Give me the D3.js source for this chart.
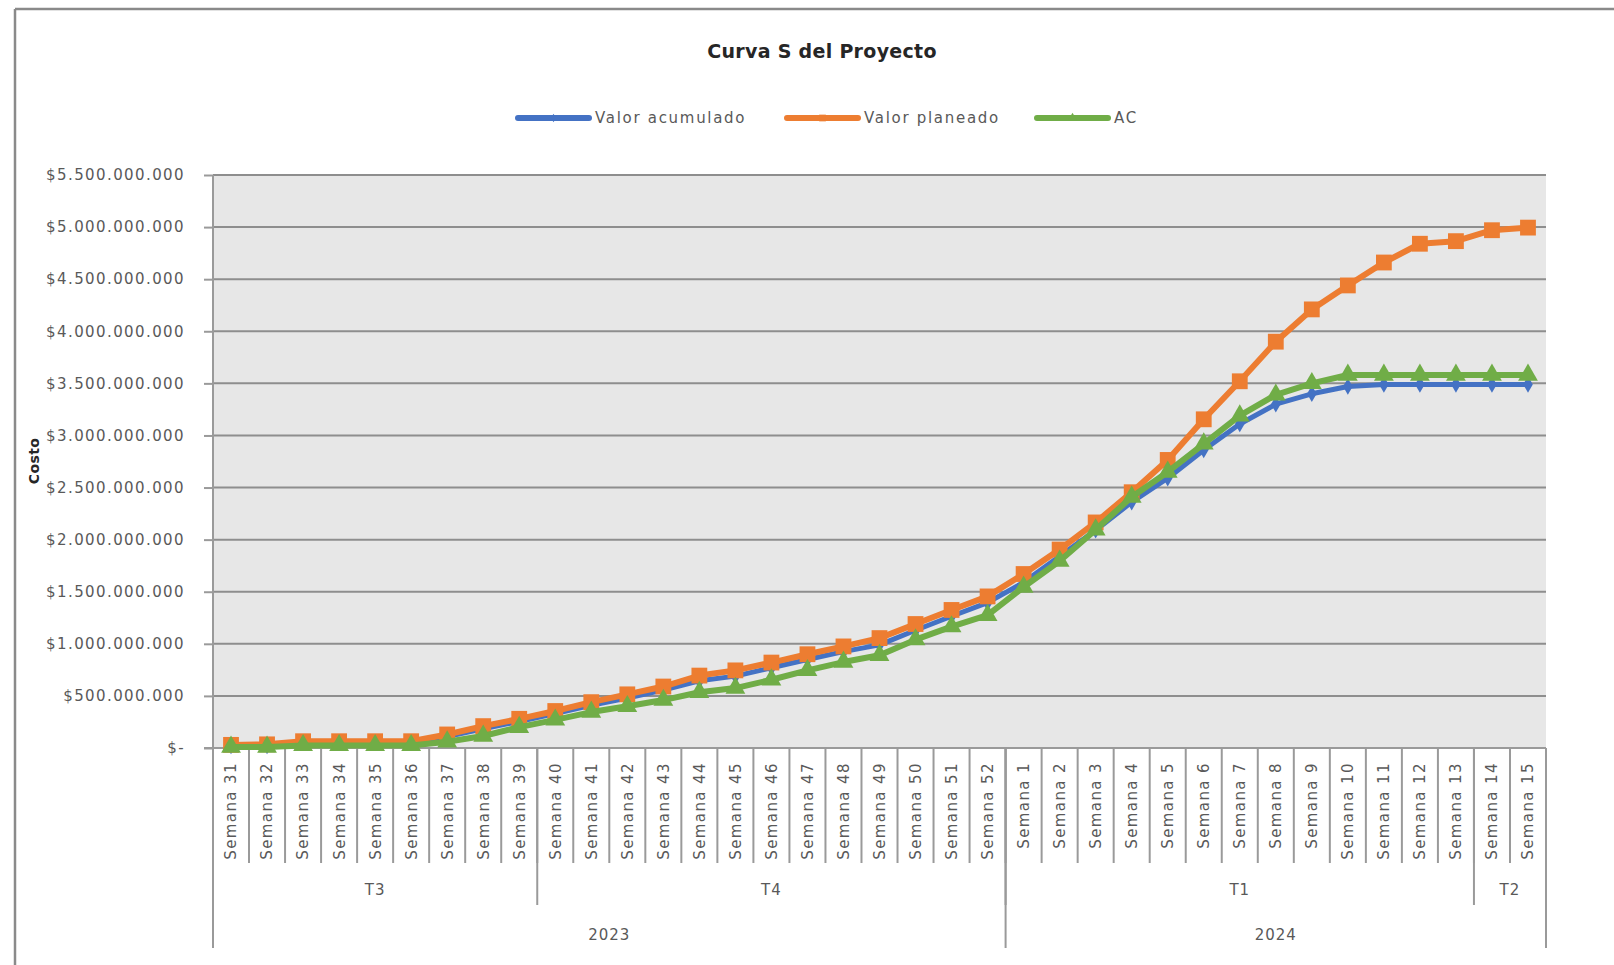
<!DOCTYPE html>
<html><head><meta charset="utf-8">
<script src="https://cdn.jsdelivr.net/npm/d3@7"></script>
<style>
body{margin:0;background:#fff;}
svg{display:block;}
</style>
</head><body>
<svg id="chart" width="1614" height="965"></svg>
<script>
// ---------- DATA ----------
const weeks = [
  "Semana 31","Semana 32","Semana 33","Semana 34","Semana 35","Semana 36","Semana 37","Semana 38","Semana 39",
  "Semana 40","Semana 41","Semana 42","Semana 43","Semana 44","Semana 45","Semana 46","Semana 47","Semana 48",
  "Semana 49","Semana 50","Semana 51","Semana 52",
  "Semana 1","Semana 2","Semana 3","Semana 4","Semana 5","Semana 6","Semana 7","Semana 8","Semana 9",
  "Semana 10","Semana 11","Semana 12","Semana 13","Semana 14","Semana 15"
];
const quarterLabels = ["T3","T4","T1","T2"];
const quarterSpans  = [9, 13, 13, 2];
const yearLabels = ["2023","2024"];
const yearSpans  = [22, 15];

const seriesNames = ["Valor acumulado","Valor planeado","AC"];
const UNIT = 1e6; // values below are in millions of pesos
const valorAcumulado = [20,20,50,50,50,50,110,185,255,330,410,480,555,645,690,770,850,925,990,1130,1265,1395,
  1590,1840,2090,2360,2590,2860,3110,3300,3400,3470,3490,3490,3490,3490,3490];
const valorPlaneado = [30,35,65,65,65,65,130,210,280,355,440,515,590,695,745,820,900,975,1055,1190,1325,1455,
  1670,1905,2165,2455,2765,3155,3520,3900,4210,4440,4660,4840,4865,4970,4995];
const acValues = [10,10,25,25,25,25,60,115,200,270,345,400,460,535,575,655,745,825,890,1040,1165,1275,
  1545,1795,2095,2410,2650,2920,3190,3390,3500,3580,3580,3580,3580,3580,3580];

const yTickValues = [0,500,1000,1500,2000,2500,3000,3500,4000,4500,5000,5500];
const yTickLabels = ["$-","$500.000.000","$1.000.000.000","$1.500.000.000","$2.000.000.000","$2.500.000.000",
  "$3.000.000.000","$3.500.000.000","$4.000.000.000","$4.500.000.000","$5.000.000.000","$5.500.000.000"];

const chartTitle = "Curva S del Proyecto";
const yAxisTitle = "Costo";

// ---------- STYLE / LAYOUT ----------
const colors = ["#4472C4","#ED7D31","#70AD47"];
const symbols = [d3.symbolDiamond, d3.symbolSquare, d3.symbolTriangle];
const symbolSizes = [80, 250, 170];
const lineWidths = [5, 6, 6];
const legendSymbolSizes = [22, 45, 35];
const FONT = "'DejaVu Sans', sans-serif";
const textColor = "#595959";
const gridColor = "#8e8e8e";
const axisColor = "#9a9a9a";

const plot = {left:213, right:1546, top:175, bottom:748};

const svg = d3.select("#chart");

// outer frame (top + left)
svg.append("line").attr("x1",15).attr("x2",1614).attr("y1",9).attr("y2",9)
  .attr("stroke","#8a8a8a").attr("stroke-width",2.5);
svg.append("line").attr("x1",15).attr("x2",15).attr("y1",9).attr("y2",965)
  .attr("stroke","#8a8a8a").attr("stroke-width",2.5);

// scales
const x = d3.scaleBand().domain(weeks).range([plot.left, plot.right]).padding(0);
const y = d3.scaleLinear().domain([0, 5500*UNIT]).range([plot.bottom, plot.top]);
const cx = d => x(d) + x.bandwidth()/2;

// plot background
svg.append("rect").attr("x",plot.left).attr("y",plot.top)
  .attr("width",plot.right-plot.left).attr("height",plot.bottom-plot.top)
  .attr("fill","#e7e7e7");

// gridlines
svg.append("g").selectAll("line").data(yTickValues.filter(v=>v>0)).join("line")
  .attr("x1",plot.left).attr("x2",plot.right)
  .attr("y1",d=>y(d*UNIT)).attr("y2",d=>y(d*UNIT))
  .attr("stroke",gridColor).attr("stroke-width",2);

// y axis
const yAxis = d3.axisLeft(y)
  .tickValues(yTickValues.map(v=>v*UNIT))
  .tickFormat((d,i)=>yTickLabels[i])
  .tickSize(9).tickPadding(19);
const gy = svg.append("g").attr("transform",`translate(${plot.left},0)`).call(yAxis);
gy.select(".domain").remove();
gy.selectAll(".tick line").attr("stroke",axisColor).attr("stroke-width",2);
gy.selectAll(".tick text").attr("fill",textColor).style("font-family",FONT)
  .style("font-size","15px").style("letter-spacing","1.4px");

// y axis vertical line (extends through category rows)
svg.append("line").attr("x1",plot.left).attr("x2",plot.left).attr("y1",plot.top).attr("y2",948)
  .attr("stroke",axisColor).attr("stroke-width",2);

// x axis baseline
svg.append("line").attr("x1",plot.left-9).attr("x2",plot.right).attr("y1",plot.bottom).attr("y2",plot.bottom)
  .attr("stroke",axisColor).attr("stroke-width",2);

// x axis week labels
const xAxis = d3.axisBottom(x).tickSize(0);
const gx = svg.append("g").attr("transform",`translate(0,${plot.bottom})`).call(xAxis);
gx.select(".domain").remove();
gx.selectAll(".tick text")
  .attr("transform","rotate(-90)")
  .attr("x",-14).attr("y",0).attr("dy","0.36em")
  .attr("text-anchor","end")
  .attr("fill",textColor).style("font-family",FONT)
  .style("font-size","15px").style("letter-spacing","1.4px");

// week separators
const step = x.step();
const x0 = x.range()[0];
const boundaryX = i => x0 + i*step;
svg.append("g").selectAll("line").data(d3.range(weeks.length+1)).join("line")
  .attr("x1",boundaryX).attr("x2",boundaryX)
  .attr("y1",plot.bottom).attr("y2",863)
  .attr("stroke",axisColor).attr("stroke-width",2);

// quarter separators + labels
const qCum = d3.cumsum(quarterSpans);
const yCum = d3.cumsum(yearSpans);
const qStarts = [0, ...qCum.slice(0,-1)];
svg.append("g").selectAll("line").data(Array.from(qCum)).join("line")
  .attr("x1",d=>boundaryX(d)).attr("x2",d=>boundaryX(d))
  .attr("y1",plot.bottom).attr("y2",905)
  .attr("stroke",axisColor).attr("stroke-width",2);
svg.append("g").selectAll("text").data(quarterLabels).join("text")
  .attr("x",(d,i)=>(boundaryX(qStarts[i])+boundaryX(qCum[i]))/2)
  .attr("y",890).attr("dy","0.36em").attr("text-anchor","middle")
  .attr("fill",textColor).style("font-family",FONT).style("font-size","15px").style("letter-spacing","1px")
  .text(d=>d);

// year separators + labels
const yStarts = [0, ...yCum.slice(0,-1)];
svg.append("g").selectAll("line").data(Array.from(yCum)).join("line")
  .attr("x1",d=>boundaryX(d)).attr("x2",d=>boundaryX(d))
  .attr("y1",plot.bottom).attr("y2",948)
  .attr("stroke",axisColor).attr("stroke-width",2);
svg.append("g").selectAll("text").data(yearLabels).join("text")
  .attr("x",(d,i)=>(boundaryX(yStarts[i])+boundaryX(yCum[i]))/2)
  .attr("y",935).attr("dy","0.36em").attr("text-anchor","middle")
  .attr("fill",textColor).style("font-family",FONT).style("font-size","15px").style("letter-spacing","1px")
  .text(d=>d);

// series
const seriesData = [valorAcumulado, valorPlaneado, acValues];
const line = d3.line().x(d=>cx(d.w)).y(d=>y(d.v*UNIT)).curve(d3.curveLinear);
seriesData.forEach((vals, si) => {
  const pts = weeks.map((w,i)=>({w, v: vals[i]}));
  const g = svg.append("g");
  g.append("path").datum(pts).attr("d",line)
    .attr("fill","none").attr("stroke",colors[si]).attr("stroke-width",lineWidths[si])
    .attr("stroke-linejoin","round").attr("stroke-linecap","round");
  g.selectAll("path.m").data(pts).join("path").attr("class","m")
    .attr("transform",d=>`translate(${cx(d.w)},${y(d.v*UNIT)})`)
    .attr("d",d3.symbol().type(symbols[si]).size(symbolSizes[si]))
    .attr("fill",colors[si]);
});

// title
svg.append("text").attr("x",822).attr("y",58).attr("text-anchor","middle")
  .attr("fill","#262626").style("font-family",FONT).style("font-size","19px")
  .style("font-weight","bold").style("letter-spacing","0.3px")
  .text(chartTitle);

// y axis title
svg.append("text").attr("transform","translate(34,461) rotate(-90)")
  .attr("text-anchor","middle").attr("dy","0.36em")
  .attr("fill","#262626").style("font-family",FONT).style("font-size","14px")
  .style("font-weight","bold").style("letter-spacing","0.4px")
  .text(yAxisTitle);

// legend
const legendX = [515, 784, 1034];
const legendY = 118;
const lg = svg.append("g");
seriesNames.forEach((name, i) => {
  const g = lg.append("g").attr("transform",`translate(${legendX[i]},${legendY})`);
  g.append("line").attr("x1",3).attr("x2",74).attr("y1",0).attr("y2",0)
    .attr("stroke",colors[i]).attr("stroke-width",6).attr("stroke-linecap","round");
  g.append("path").attr("transform","translate(38.5,0)")
    .attr("d",d3.symbol().type(symbols[i]).size(legendSymbolSizes[i])).attr("fill",colors[i]);
  g.append("text").attr("x",80).attr("y",0).attr("dy","0.36em")
    .attr("fill",textColor).style("font-family",FONT).style("font-size","15px")
    .style("letter-spacing","1.7px").text(name);
});
</script>
</body></html>
